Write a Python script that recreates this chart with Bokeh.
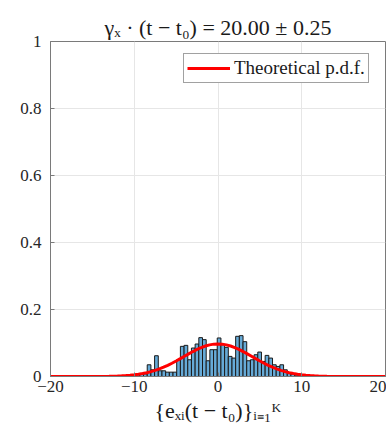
import numpy as np
from bokeh.plotting import figure
from bokeh.models import Legend, LegendItem, ColumnDataSource, FixedTicker
from bokeh.embed import file_html
from bokeh.resources import INLINE

# ---- data ----
title_text = "γₓ · (t − t₀) = 20.00 ± 0.25"
xlabel_text = "{eₓᵢ(t − t₀)}ᵢ₌₁ᴷ"
legend_label = "Theoretical p.d.f."

hist_start = -13.73
bin_width = 0.44
hist_heights = [0.002, 0.003, 0.002, 0.003, 0.0, 0.002, 0.003, 0.0, 0.004, 0.005, 0.007, 0.008,
                0.035, 0.020, 0.062, 0.017, 0.017, 0.013, 0.013, 0.013, 0.050, 0.090,
                0.093, 0.050, 0.085, 0.097, 0.116, 0.110, 0.047, 0.080, 0.080, 0.115,
                0.095, 0.087, 0.060, 0.055, 0.120, 0.122, 0.104, 0.047, 0.050, 0.065,
                0.073, 0.045, 0.063, 0.055, 0.035, 0.030, 0.035, 0.020, 0.010, 0.007,
                0.004, 0.002]

pdf_x = [-20, -18, -16, -15, -14, -13, -12, -11.5, -11, -10.5, -10, -9.5, -9, -8.5, -8, -7.5,
         -7, -6.5, -6, -5.5, -5, -4.5, -4, -3.5, -3, -2.5, -2, -1.5, -1, -0.5, 0, 0.5,
         1, 1.5, 2, 2.5, 3, 3.5, 4, 4.5, 5, 5.5, 6, 6.5, 7, 7.5, 8, 8.5, 9, 9.5, 10,
         10.5, 11, 11.5, 12, 13, 14, 15, 16, 18, 20]
pdf_y = [0.0, 0.0, 0.0, 0.0001, 0.0003, 0.0006, 0.0013, 0.0019, 0.0027, 0.0037, 0.0050, 0.0066,
         0.0087, 0.0113, 0.0145, 0.0183, 0.0227, 0.0277, 0.0333, 0.0396, 0.0463, 0.0533,
         0.0605, 0.0676, 0.0745, 0.0808, 0.0864, 0.0910, 0.0944, 0.0966, 0.0973, 0.0966,
         0.0944, 0.0910, 0.0864, 0.0808, 0.0745, 0.0676, 0.0605, 0.0533, 0.0463, 0.0396,
         0.0333, 0.0277, 0.0227, 0.0183, 0.0145, 0.0113, 0.0087, 0.0066, 0.0050, 0.0037,
         0.0027, 0.0019, 0.0013, 0.0006, 0.0003, 0.0001, 0.0, 0.0, 0.0]

x_ticks = [-20, -10, 0, 10, 20]
y_ticks = [0, 0.2, 0.4, 0.6, 0.8, 1]
y_tick_labels = {0: "0", 0.2: "0.2", 0.4: "0.4", 0.6: "0.6", 0.8: "0.8", 1: "1"}

# ---- figure ----
SERIF = "'Liberation Serif', 'Times New Roman', serif"
p = figure(width=386, height=430, output_backend="svg", toolbar_location=None,
           x_range=(-20, 20), y_range=(0, 1),
           min_border_left=50, min_border_right=1, min_border_top=41, min_border_bottom=54)
p.background_fill_color = "white"
p.border_fill_color = "white"
p.outline_line_color = "#7a7a7a"
p.outline_line_width = 1

edges = hist_start + bin_width * np.arange(len(hist_heights) + 1)
src = ColumnDataSource(dict(left=edges[:-1], right=edges[1:], top=hist_heights,
                            bottom=[0] * len(hist_heights)))
p.quad(left="left", right="right", top="top", bottom="bottom", source=src,
       fill_color="#66aad7", line_color="#1a1a1a", line_width=1)

r_pdf = p.line(pdf_x, pdf_y, line_color="#ff0000", line_width=3)

# title
p.title.text = title_text
p.title.align = "center"
p.title.text_font = SERIF
p.title.text_font_size = "22px"
p.title.text_font_style = "normal"
p.title.text_color = "#1a1a1a"
p.title.offset = 0
p.title.standoff = 4

# axes
for ax in (p.xaxis[0], p.yaxis[0]):
    ax.axis_line_color = "#7a7a7a"
    ax.major_tick_line_color = "#7a7a7a"
    ax.major_tick_in = 4
    ax.major_tick_out = 0
    ax.minor_tick_line_color = None
    ax.major_label_text_font = SERIF
    ax.major_label_text_font_size = "17px"
    ax.major_label_text_color = "#262626"

p.xaxis.ticker = FixedTicker(ticks=x_ticks)
p.yaxis.ticker = FixedTicker(ticks=y_ticks)
p.yaxis.major_label_overrides = y_tick_labels
p.xaxis.major_label_standoff = 4
p.yaxis.major_label_standoff = 9
p.xaxis.axis_label = xlabel_text
p.xaxis.axis_label_text_font = SERIF
p.xaxis.axis_label_text_font_size = "22px"
p.xaxis.axis_label_text_font_style = "normal"
p.xaxis.axis_label_text_color = "#1a1a1a"
p.xaxis.axis_label_standoff = 3

p.grid.grid_line_color = "#e6e6e6"
p.grid.grid_line_width = 1

legend = Legend(items=[LegendItem(label=legend_label, renderers=[r_pdf])],
                location=(133, 293), orientation="vertical")
legend.label_text_font = SERIF
legend.label_text_font_size = "19px"
legend.label_text_color = "#1a1a1a"
legend.border_line_color = "#444444"
legend.border_line_width = 1
legend.background_fill_color = "white"
legend.background_fill_alpha = 1
legend.glyph_width = 43
legend.glyph_height = 16
legend.padding = 3
legend.margin = 0
legend.label_standoff = 4
legend.label_height = 16
p.add_layout(legend, "center")

open("out.html", "w").write(file_html(p, INLINE))
